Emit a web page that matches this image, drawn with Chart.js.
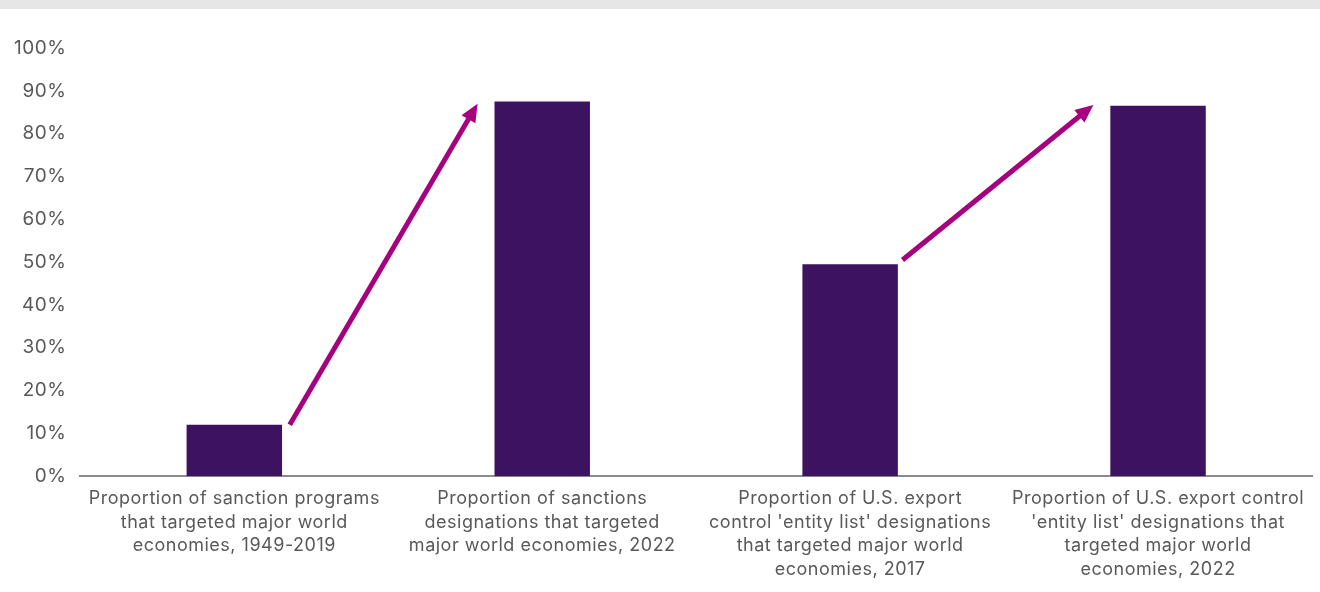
<!DOCTYPE html>
<html>
<head>
<meta charset="utf-8">
<script src="https://cdn.jsdelivr.net/npm/chart.js@4"></script>
<style>
  body { margin: 0; background: #fff; }
  #topbar { height: 9px; background: #e6e6e6; }
  #wrap { width: 1320px; height: 583px; position: relative; }
</style>
</head>
<body>
<div id="topbar"></div>
<div id="wrap"><canvas id="chart"></canvas></div>
<script>
const categories = [
  ["Proportion of sanction programs", "that targeted major world", "economies, 1949-2019"],
  ["Proportion of sanctions", "designations that targeted", "major world economies, 2022"],
  ["Proportion of U.S. export", "control 'entity list' designations", "that targeted major world", "economies, 2017"],
  ["Proportion of U.S. export control", "'entity list' designations that", "targeted major world", "economies, 2022"]
];
const shares = [12, 87.5, 49.5, 86.5];
const yTicks = [0, 10, 20, 30, 40, 50, 60, 70, 80, 90, 100];

// arrows: [fromIndex, fromValue, toIndex, toValue] on the category / value scales
const arrows = [
  [0.18, 12, 0.79, 87],
  [2.17, 50.5, 2.79, 86.7]
];

const BAR = "#3d1260";
const ARROW = "#a6007e";
const TEXT = "#595959";

const spacingPlugin = {
  id: "spacing",
  beforeInit(chart) { chart.ctx.letterSpacing = "0.5px"; },
  beforeDraw(chart) { chart.ctx.letterSpacing = "0.5px"; }
};

const arrowPlugin = {
  id: "arrows",
  afterDatasetsDraw(chart) {
    const ctx = chart.ctx;
    const xs = chart.scales.x, ys = chart.scales.y;
    arrows.forEach(([i0, v0, i1, v1]) => {
      const x0 = xs.getPixelForValue(i0), y0 = ys.getPixelForValue(v0);
      const x1 = xs.getPixelForValue(i1), y1 = ys.getPixelForValue(v1);
      const ang = Math.atan2(y1 - y0, x1 - x0);
      const head = 18, half = 8;
      ctx.save();
      ctx.strokeStyle = ARROW;
      ctx.fillStyle = ARROW;
      ctx.lineWidth = 5;
      ctx.beginPath();
      ctx.moveTo(x0, y0);
      ctx.lineTo(x1 - Math.cos(ang) * head * 0.8, y1 - Math.sin(ang) * head * 0.8);
      ctx.stroke();
      ctx.beginPath();
      ctx.moveTo(x1, y1);
      ctx.lineTo(x1 - Math.cos(ang) * head - Math.sin(ang) * half, y1 - Math.sin(ang) * head + Math.cos(ang) * half);
      ctx.lineTo(x1 - Math.cos(ang) * head + Math.sin(ang) * half, y1 - Math.sin(ang) * head - Math.cos(ang) * half);
      ctx.closePath();
      ctx.fill();
      ctx.restore();
    });
  }
};

new Chart(document.getElementById("chart"), {
  type: "bar",
  data: {
    labels: categories,
    datasets: [{
      data: shares,
      backgroundColor: BAR,
      barPercentage: 0.31,
      categoryPercentage: 1
    }]
  },
  options: {
    responsive: true,
    maintainAspectRatio: false,
    animation: false,
    layout: { padding: { top: 39, left: 2, right: 8, bottom: 0 } },
    plugins: { legend: { display: false }, tooltip: { enabled: false } },
    scales: {
      x: {
        grid: { display: false, drawTicks: false },
        border: { display: true, color: "#8c8c8c", width: 2 },
        ticks: {
          color: TEXT,
          font: { family: "Inter", size: 18, lineHeight: 1.33 },
          maxRotation: 0,
          autoSkip: false,
          padding: 10
        }
      },
      y: {
        min: 0,
        max: 100,
        afterBuildTicks(axis) { axis.ticks = yTicks.map(v => ({ value: v })); },
        grid: { display: false, drawTicks: false },
        border: { display: false },
        ticks: {
          color: TEXT,
          font: { family: "Inter", size: 19 },
          padding: 14,
          callback: v => v + "%"
        }
      }
    }
  },
  plugins: [spacingPlugin, arrowPlugin]
});
</script>
</body>
</html>
